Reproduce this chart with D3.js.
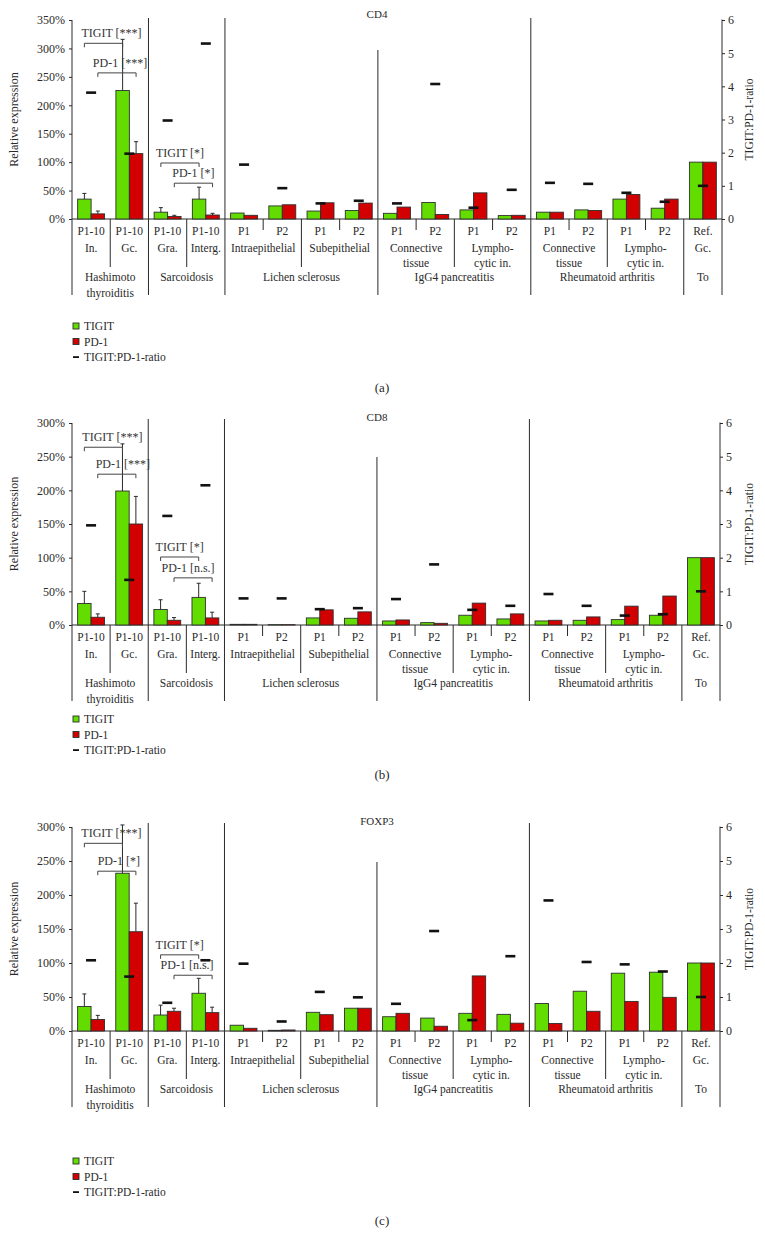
<!DOCTYPE html>
<html><head><meta charset="utf-8">
<script src="https://cdn.jsdelivr.net/npm/d3@7"></script>
<style>
body{margin:0;background:#fff}
svg{display:block}
text{font-family:"Liberation Serif","DejaVu Serif",serif;fill:#2a2a2a}
</style>
</head><body>
<svg id="chart" width="765" height="1248"></svg>
<script>
// ---------- categories ----------
const slotLabels = ["P1-10","P1-10","P1-10","P1-10","P1","P2","P1","P2","P1","P2","P1","P2","P1","P2","P1","P2","Ref."];
const subLabels = [["In."],["Gc."],["Gra."],["Interg."],["Intraepithelial"],["Subepithelial"],["Connective","tissue"],["Lympho-","cytic in."],["Connective","tissue"],["Lympho-","cytic in."],["Gc."]];
const subSpans = [1,1,1,1,2,2,2,2,2,2,1];
const groupLabels = [["Hashimoto","thyroiditis"],["Sarcoidosis"],["Lichen sclerosus"],["IgG4 pancreatitis"],["Rheumatoid arthritis"],["To"]];
const groupSpans = [2,2,4,4,4,1];
const seriesNames = ["TIGIT","PD-1"];
const legendLabels = ["TIGIT","PD-1","TIGIT:PD-1-ratio"];
const leftTicksCD4 = [0,50,100,150,200,250,300,350];
const leftTicks = [0,50,100,150,200,250,300];
const rightTicks = [0,1,2,3,4,5,6];

// ---------- CD4 ----------
const cd4Tigit = [35,226,12,35,10.5,23,14,15,10,29,16,6,12,16,35,19,100];
const cd4Pd1   = [9,115,4.5,7,6.5,25,28.5,28,21,8,46,6.5,12,15,43,35,100];
const cd4TigitErr = [45,316,20,56];
const cd4Pd1Err   = [14,136,6.5,10];
const cd4Ratio = [3.81,1.97,2.97,5.29,1.64,0.93,0.47,0.55,0.47,4.07,0.34,0.88,1.09,1.06,0.79,0.52,1.0];
const cd4Sig = ["TIGIT [***]","PD-1 [***]","TIGIT [*]","PD-1 [*]"];

// ---------- CD8 ----------
const cd8Tigit = [32,199,23,41,1,0.5,10.5,10,6,3.5,14.5,9,6,7,8,14.5,100];
const cd8Pd1   = [11.5,150,7,10.5,1,0.5,22.5,19.5,7.5,2.5,32.5,16.5,7,12,28,43,100];
const cd8TigitErr = [50,269,37.5,62];
const cd8Pd1Err   = [16.5,191,11,19];
const cd8Ratio = [2.96,1.34,3.24,4.15,0.79,0.79,0.47,0.5,0.77,1.8,0.45,0.57,0.92,0.57,0.28,0.32,1.0];
const cd8Sig = ["TIGIT [***]","PD-1 [***]","TIGIT [*]","PD-1 [n.s.]"];

// ---------- FOXP3 ----------
const foxTigit = [36,232,23.5,55.5,8.5,1,27.5,33.5,21,19,26,24.5,40.5,58.5,85,86.5,100];
const foxPd1   = [17,146,29,27,4,1.5,24,33.5,26,7,81,11.5,11,29,43.5,49.5,100];
const foxTigitErr = [54.5,303,38,77.5];
const foxPd1Err   = [23,188,33.5,35];
const foxRatio = [2.08,1.6,0.83,2.08,1.98,0.28,1.15,0.99,0.8,2.94,0.32,2.2,3.84,2.03,1.96,1.75,1.0];
const foxSig = ["TIGIT [***]","PD-1 [*]","TIGIT [*]","PD-1 [n.s.]"];

// significance pairs: [series index, slot a, slot b]
const sigPairs = [[0,0,1],[1,0,1],[0,2,3],[1,2,3]];

const GREEN = "#63dd00", RED = "#d20000", EDGE = "#2e2e2e", INK = "#2a2a2a";

const panels = [
  {title:"CD4", tig:cd4Tigit, pd:cd4Pd1, tigErr:cd4TigitErr, pdErr:cd4Pd1Err, ratio:cd4Ratio, sig:cd4Sig,
   ticks:leftTicksCD4, yMax:350, top:20, base:219, right:722, lichenTop:50, sepTop:18,
   sigLevels:[309,257,98.5,63], sigDx:[8,3,0,0], legendY:326, labelY:388, tag:"(a)"},
  {title:"CD8", tig:cd8Tigit, pd:cd8Pd1, tigErr:cd8TigitErr, pdErr:cd8Pd1Err, ratio:cd8Ratio, sig:cd8Sig,
   ticks:leftTicks, yMax:300, top:423, base:625, right:720, lichenTop:457, sepTop:419,
   sigLevels:[264,224,101,70], sigDx:[9,6,0,-5], legendY:719, labelY:775, tag:"(b)"},
  {title:"FOXP3", tig:foxTigit, pd:foxPd1, tigErr:foxTigitErr, pdErr:foxPd1Err, ratio:foxRatio, sig:foxSig,
   ticks:leftTicks, yMax:300, top:827, base:1031, right:720, lichenTop:862, sepTop:823,
   sigLevels:[276,235,112,82], sigDx:[8,2,0,-6], legendY:1161, labelY:1221, tag:"(c)"}
];

const svg = d3.select("#chart");
const LEFT = 72;

function drawPanel(p){
  const g = svg.append("g");
  const x = d3.scaleBand().domain(d3.range(slotLabels.length)).range([LEFT, p.right]).padding(0);
  const inner = d3.scaleBand().domain(seriesNames).range([0, x.bandwidth()]).paddingInner(0).paddingOuter(0.42);
  const y = d3.scaleLinear().domain([0, p.yMax]).range([p.base, p.top]);
  const yR = d3.scaleLinear().domain([0, 6]).range([p.base, p.top]);
  const bottom = p.base + 76;

  // title
  g.append("text").attr("x", 377).attr("y", p.top - 2).attr("text-anchor","middle")
    .attr("font-size", 11).text(p.title);

  // left axis
  const la = g.append("g").attr("transform",`translate(${LEFT},0)`)
    .call(d3.axisLeft(y).tickValues(p.ticks).tickFormat(d=>d+"%").tickSize(3).tickPadding(4));
  la.select(".domain").remove();
  la.selectAll("text").attr("font-size",12).style("fill",INK);
  la.selectAll("line").attr("stroke",INK);
  // right axis
  const ra = g.append("g").attr("transform",`translate(${p.right},0)`)
    .call(d3.axisRight(yR).tickValues(rightTicks).tickFormat(d3.format("d")).tickSize(3).tickPadding(3));
  ra.select(".domain").remove();
  ra.selectAll("text").attr("font-size",12).style("fill",INK);
  ra.selectAll("line").attr("stroke",INK);

  // axis titles
  g.append("text").attr("transform",`translate(18,${(p.top+p.base)/2}) rotate(-90)`)
    .attr("text-anchor","middle").attr("font-size",12).text("Relative expression");
  g.append("text").attr("transform",`translate(753,${(p.top+p.base)/2}) rotate(-90)`)
    .attr("text-anchor","middle").attr("font-size",11.5).text("TIGIT:PD-1-ratio");

  // structural lines
  const line = (x1,y1,x2,y2,w=1)=>g.append("line").attr("x1",x1).attr("y1",y1).attr("x2",x2).attr("y2",y2)
      .attr("stroke",INK).attr("stroke-width",w);
  line(LEFT, p.top, LEFT, bottom);
  line(p.right, p.top - 0.5, p.right, bottom);
  line(LEFT, p.base, p.right, p.base);

  // group boundaries
  let acc = 0;
  groupSpans.forEach((s,gi)=>{
    acc += s;
    if (acc >= slotLabels.length) return;
    const bx = x(acc);
    let yTop = p.base;
    if (gi === 0 || gi === 1 || gi === 3) yTop = p.sepTop;
    if (gi === 2) yTop = p.lichenTop;
    line(bx, yTop, bx, bottom);
  });
  // subgroup boundaries
  const groupEnds = d3.cumsum(groupSpans).slice(0,-1);
  acc = 0;
  subSpans.forEach((s)=>{
    acc += s;
    if (acc >= slotLabels.length || groupEnds.includes(acc)) return;
    line(x(acc), p.base, x(acc), p.base + 48);
  });
  // P1 | P2 separators within subgroup
  acc = 0;
  subSpans.forEach((s)=>{
    if (s === 2) line(x(acc+1), p.base, x(acc+1), p.base + 11);
    acc += s;
  });

  // category labels
  g.selectAll(".r1").data(slotLabels).join("text")
    .attr("x",(d,i)=>x(i)+x.bandwidth()/2).attr("y",p.base+16).attr("text-anchor","middle")
    .attr("font-size",11.5).text(d=>d);
  acc = 0;
  subLabels.forEach((lab,i)=>{
    const cx = (x(acc) + x(acc+subSpans[i]-1) + x.bandwidth())/2;
    lab.forEach((t,k)=>g.append("text").attr("x",cx).attr("y",p.base+33+k*15)
      .attr("text-anchor","middle").attr("font-size",11.5).text(t));
    acc += subSpans[i];
  });
  acc = 0;
  groupLabels.forEach((lab,i)=>{
    const cx = (x(acc) + x(acc+groupSpans[i]-1) + x.bandwidth())/2;
    lab.forEach((t,k)=>g.append("text").attr("x",cx).attr("y",p.base+62+k*16)
      .attr("text-anchor","middle").attr("font-size",11.5).text(t));
    acc += groupSpans[i];
  });

  // bars
  const vals = [p.tig, p.pd];
  const cols = [GREEN, RED];
  vals.forEach((arr,si)=>{
    g.selectAll(".bar"+si).data(arr).join("rect")
      .attr("x",(d,i)=>x(i)+inner(seriesNames[si]))
      .attr("y",d=>y(d)).attr("width",inner.bandwidth())
      .attr("height",d=>p.base - y(d))
      .attr("fill",cols[si]).attr("stroke",EDGE).attr("stroke-width",0.9);
  });
  // error bars (upper only)
  [p.tigErr, p.pdErr].forEach((arr,si)=>{
    arr.forEach((e,i)=>{
      const cx = x(i)+inner(seriesNames[si])+inner.bandwidth()/2;
      line(cx, y(vals[si][i]), cx, y(e), 1);
      line(cx-2, y(e), cx+2, y(e), 1);
    });
  });
  // ratio dashes
  g.selectAll(".ratio").data(p.ratio).join("rect")
    .attr("x",(d,i)=>x(i)+x.bandwidth()/2-5).attr("y",d=>yR(d)-1.3)
    .attr("width",10).attr("height",2.6).attr("fill","#111");

  // significance brackets
  sigPairs.forEach(([si,a,b],k)=>{
    const xa = x(a)+inner(seriesNames[si])+inner.bandwidth()/2;
    const xb = x(b)+inner(seriesNames[si])+inner.bandwidth()/2;
    const ly = y(p.sigLevels[k]);
    g.append("path").attr("d",`M${xa},${ly+4}V${ly}H${xb}V${ly+4}`)
      .attr("fill","none").attr("stroke","#444").attr("stroke-width",1);
    g.append("text").attr("x",(xa+xb)/2 + p.sigDx[k]).attr("y",ly-6)
      .attr("text-anchor","middle").attr("font-size",12).style("fill","#333").text(p.sig[k]);
  });

  // legend
  const lg = g.append("g").attr("transform",`translate(73,${p.legendY})`);
  legendLabels.forEach((t,i)=>{
    const yy = i*15.5;
    if (i < 2) lg.append("rect").attr("x",0).attr("y",yy-3).attr("width",6).attr("height",6)
      .attr("fill",cols[i]).attr("stroke",EDGE).attr("stroke-width",0.9);
    else lg.append("rect").attr("x",0).attr("y",yy-0.8).attr("width",6).attr("height",1.8).attr("fill","#111");
    lg.append("text").attr("x",11).attr("y",yy+4).attr("font-size",11.5).text(t);
  });
  // panel tag
  g.append("text").attr("x",382).attr("y",p.labelY+4).attr("text-anchor","middle")
    .attr("font-size",13).text(p.tag);
}
panels.forEach(drawPanel);
</script>
</body></html>
